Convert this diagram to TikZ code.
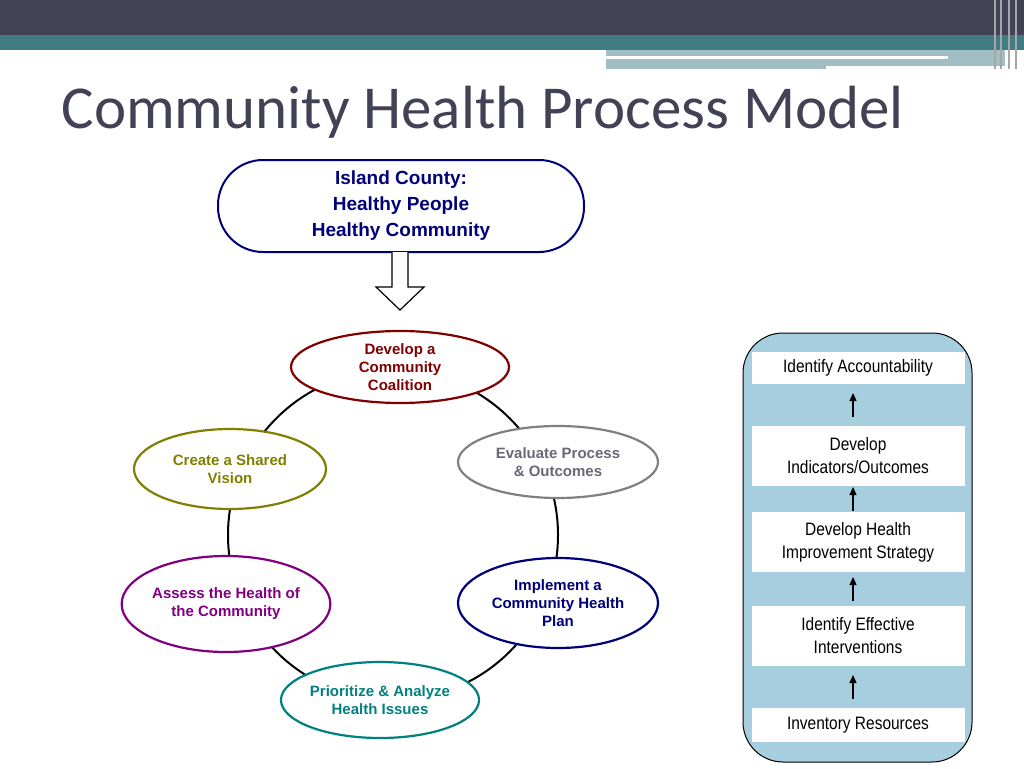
\documentclass[tikz,border=0pt]{standalone}
\usepackage{fontspec}
\setmainfont{Liberation Sans}
\newfontfamily\titlefont{Carlito}
\usetikzlibrary{shapes.geometric,calc,arrows.meta}
\definecolor{bardark}{RGB}{66,66,86}
\definecolor{barteal}{RGB}{64,125,130}
\definecolor{barlight}{RGB}{160,190,195}
\definecolor{panelblue}{RGB}{166,206,222}
\definecolor{navy}{RGB}{0,0,120}
\definecolor{maroon}{RGB}{128,0,0}
\definecolor{olive}{RGB}{128,128,0}
\definecolor{purpleish}{RGB}{128,0,128}
\definecolor{tealish}{RGB}{0,128,128}
\tikzset{
  stage/.style={ellipse, draw, line width=2.2pt, fill=white, font=\bfseries\fontsize{15}{18}\selectfont, align=center, inner sep=0pt},
  stepbox/.style={fill=white, minimum width=213pt, align=center, font=\fontsize{18}{23}\selectfont}
}
\begin{document}
\begin{tikzpicture}[x=1pt, y=-1pt]
  \useasboundingbox (0,0) rectangle (1024,768);
  % header bars
  \fill[bardark] (0,0) rectangle (1024,35);
  \fill[barteal] (0,35) rectangle (1024,50);
  \fill[barlight] (606,50) rectangle (1005,69);
  \fill[white] (606,56) rectangle (948,59);
  \fill[white] (826,66) rectangle (1005,70);
  \foreach \x in {994,1000,1008,1015} \fill[gray!70] (\x,0) rectangle ++(2,69);
  \node[anchor=west, text=bardark, font=\titlefont\fontsize{61}{63}\selectfont] (title) at (58,112) {Community Health Process Model};
  % top box and hollow arrow
  \node[draw=navy, line width=2pt, rounded corners=45pt, minimum width=366pt, minimum height=92pt, align=center, text=navy, font=\bfseries\fontsize{19}{26}\selectfont] (island) at (401,206) {Island County:\\Healthy People\\Healthy Community};
  \draw[line width=1.2pt, fill=white] (392,252) -- (392,287) -- (376,287) -- (400,310) -- (424,287) -- (408,287) -- (408,252);
  % cycle
  \draw[line width=2pt] (393,535) circle (165);
  \node[stage, draw=maroon, text=maroon, minimum width=218pt, minimum height=72pt] (coalition) at (400,367) {Develop a\\Community\\Coalition};
  \node[stage, draw=gray, text=bardark!80, minimum width=200pt, minimum height=72pt] (evaluate) at (558,462) {Evaluate Process\\\& Outcomes};
  \node[stage, draw=navy, text=navy, minimum width=200pt, minimum height=90pt] (implement) at (558,603) {Implement a\\Community Health\\Plan};
  \node[stage, draw=tealish, text=tealish, minimum width=192pt, minimum height=76pt] (prioritize) at (380,700) {Prioritize \& Analyze\\Health Issues};
  \node[stage, draw=purpleish, text=purpleish, minimum width=200pt, minimum height=96pt] (assess) at (226,604) {Assess the Health of\\the Community};
  \node[stage, draw=olive, text=olive, minimum width=192pt, minimum height=80pt] (vision) at (230,469) {Create a Shared\\Vision};
  % right panel
  \draw[fill=panelblue, line width=1pt, rounded corners=40pt] (743,333) rectangle (972,762);
  \node[stepbox, minimum height=32pt] (account) at (858,368) {\scalebox{0.86}[1]{Identify Accountability}};
  \node[stepbox, minimum height=60pt] (indicators) at (858,456) {\scalebox{0.86}[1]{Develop}\\\scalebox{0.86}[1]{Indicators/Outcomes}};
  \node[stepbox, minimum height=60pt] (strategy) at (858,542) {\scalebox{0.86}[1]{Develop Health}\\\scalebox{0.86}[1]{Improvement Strategy}};
  \node[stepbox, minimum height=60pt] (interventions) at (858,636) {\scalebox{0.86}[1]{Identify Effective}\\\scalebox{0.86}[1]{Interventions}};
  \node[stepbox, minimum height=34pt] (inventory) at (858,725) {\scalebox{0.86}[1]{Inventory Resources}};
  \foreach \a/\b in {inventory/interventions, interventions/strategy, strategy/indicators, indicators/account}
    \draw[-{Triangle[length=8pt,width=7pt]}, line width=1.3pt] ($(\a.north)!0.5!(\b.south)+(-5,12)$) -- ($(\a.north)!0.5!(\b.south)+(-5,-12)$);
\end{tikzpicture}
\end{document}
